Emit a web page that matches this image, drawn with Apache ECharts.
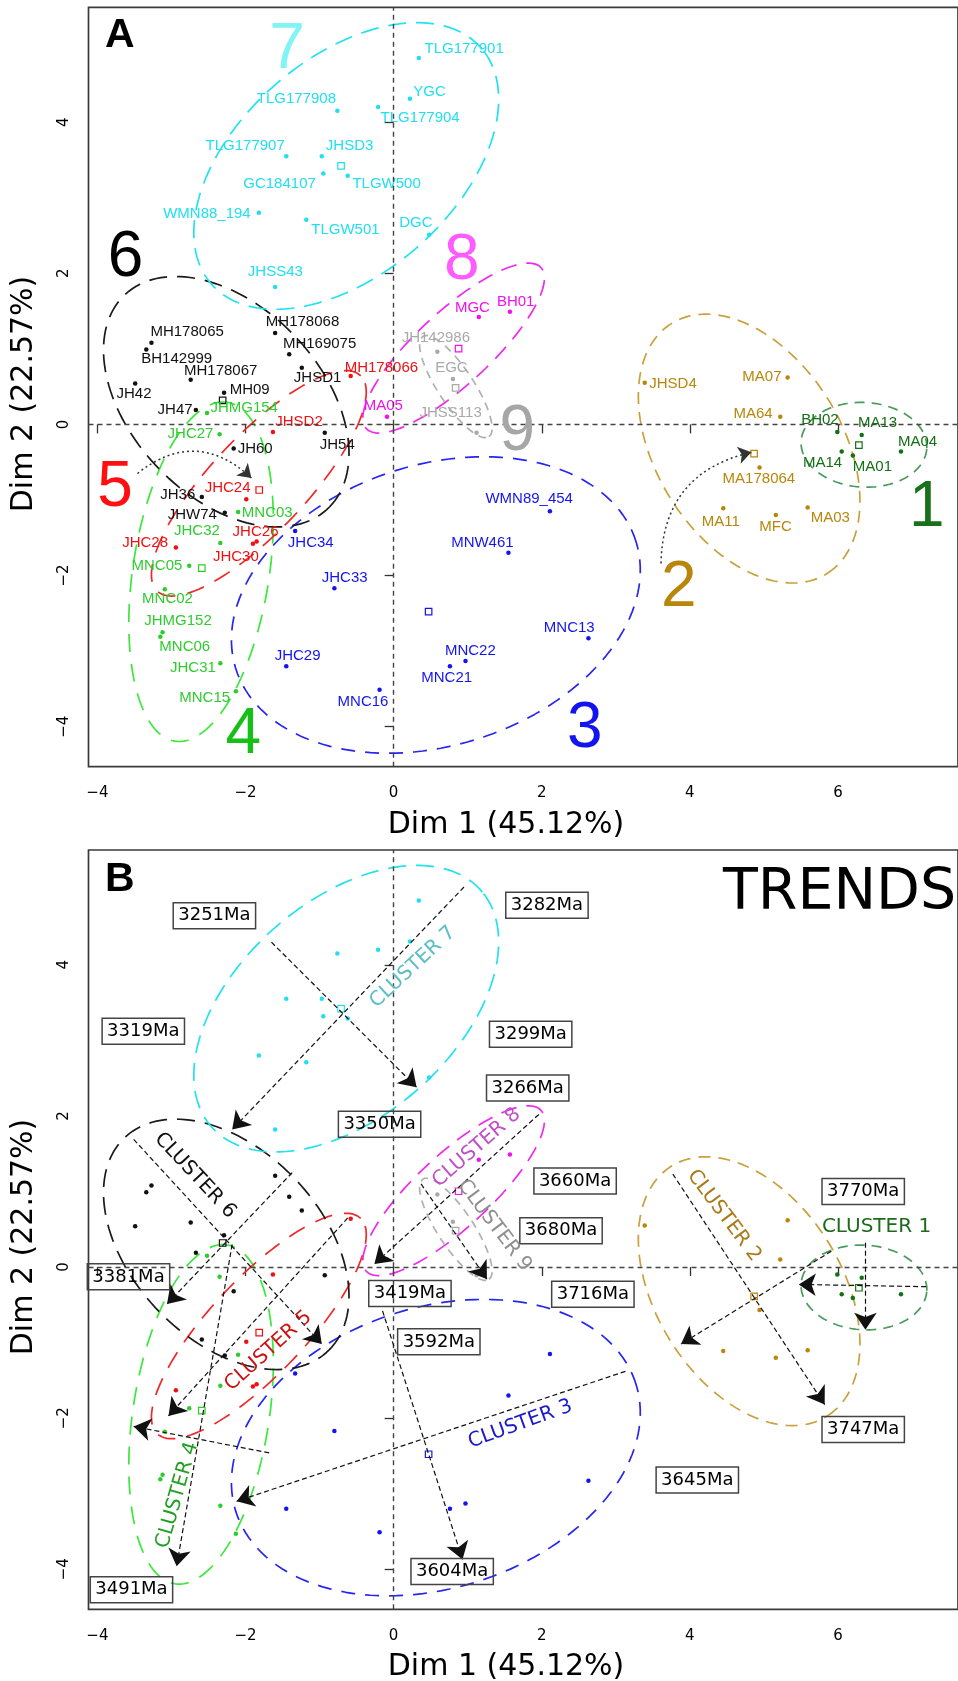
<!DOCTYPE html>
<html><head><meta charset="utf-8">
<script src="https://cdn.jsdelivr.net/npm/echarts@6/dist/echarts.min.js"></script>
<style>html,body{margin:0;padding:0;background:#fff}#chart{width:958px;height:1681px}</style>
</head><body><div id="chart"></div>
<script>
// ---------------- DATA ----------------
const xTicks = [-4, -2, 0, 2, 4, 6];
const yTicks = [-4, -2, 0, 2, 4];
const xTitle = 'Dim 1 (45.12%)';
const yTitle = 'Dim 2 (22.57%)';

const c1Names = ['BH02','MA13','MA14','MA01','MA04'];
const c1X = [5.99, 6.32, 6.05, 6.20, 6.85];
const c1Y = [-0.10, -0.14, -0.36, -0.41, -0.36];

const c2Names = ['JHSD4','MA07','MA64','MA178064','MA11','MFC','MA03'];
const c2X = [3.39, 5.32, 5.22, 4.94, 4.45, 5.16, 5.59];
const c2Y = [0.55, 0.62, 0.10, -0.57, -1.11, -1.20, -1.10];

const c3Names = ['JHC34','JHC33','JHC29','MNC16','MNW461','MNC22','MNC21','WMN89_454','MNC13'];
const c3X = [-1.33, -0.80, -1.45, -0.19, 1.55, 0.97, 0.76, 2.11, 2.63];
const c3Y = [-1.41, -2.17, -3.20, -3.51, -1.70, -3.13, -3.20, -1.15, -2.83];

const c4Names = ['JHMG154','JHC27','MNC03','JHC32','MNC05','MNC02','JHMG152','MNC06','JHC31','MNC15'];
const c4X = [-2.52, -2.35, -2.10, -2.34, -2.76, -3.09, -3.12, -3.15, -2.34, -2.13];
const c4Y = [0.15, -0.13, -1.16, -1.57, -1.87, -2.18, -2.75, -2.81, -3.16, -3.53];

const c5Names = ['MH178066','JHSD2','JHC24','JHC26','JHC30','JHC28'];
const c5X = [-0.58, -1.63, -1.99, -1.85, -1.90, -2.94];
const c5Y = [0.64, -0.10, -0.99, -1.55, -1.58, -1.63];

const c6Names = ['MH178068','MH178065','BH142999','MH169075','MH178067','JH42','MH09','JHSD1','JH47','JH60','JH54','JH36','JHW74'];
const c6X = [-1.60, -3.27, -3.34, -1.41, -2.74, -3.49, -2.29, -1.24, -2.67, -2.16, -0.93, -2.59, -2.28];
const c6Y = [1.21, 1.08, 0.99, 0.93, 0.59, 0.54, 0.42, 0.75, 0.19, -0.32, -0.11, -0.96, -1.17];

const c7Names = ['TLG177901','YGC','TLG177904','TLG177908','TLG177907','JHSD3','GC184107','TLGW500','WMN88_194','TLGW501','DGC','JHSS43'];
const c7X = [0.34, 0.22, -0.21, -0.76, -1.45, -0.97, -0.95, -0.62, -1.82, -1.18, 0.48, -1.60];
const c7Y = [4.85, 4.31, 4.20, 4.15, 3.55, 3.55, 3.32, 3.29, 2.80, 2.71, 2.51, 1.82];

const c8Names = ['MGC','BH01','MA05'];
const c8X = [1.15, 1.57, -0.09];
const c8Y = [1.42, 1.49, 0.10];

const c9Names = ['JH142986','EGC','JHSS113'];
const c9X = [0.59, 0.80, 1.12];
const c9Y = [0.96, 0.60, -0.11];

// concentration ellipses (cluster 1..9): centre, semi-axes, angle (deg)
const ellipseCX = [6.35, 4.80, 0.57, -2.60, -1.82, -2.26, -0.64, 0.81, 0.84];
const ellipseCY = [-0.27, -0.32, -2.39, -1.95, -0.78, 0.30, 3.42, 1.01, 0.50];
const ellipseA = [0.85, 1.96, 2.83, 2.27, 1.98, 1.97, 2.40, 1.59, 0.80];
const ellipseB = [0.56, 1.25, 1.86, 0.92, 0.64, 1.27, 1.44, 0.49, 0.24];
const ellipseAngle = [-3, -57, 17, 81, 46, -45, 40, 42, -56];

// big cluster numbers (panel A)
const bigNumText = ['1','2','3','4','5','6','7','8','9'];
const bigNumX = [7.20, 3.85, 2.58, -2.03, -3.76, -3.62, -1.44, 0.92, 1.67];
const bigNumY = [-1.11, -2.17, -4.03, -4.11, -0.84, 2.20, 4.95, 2.16, -0.10];

// dotted curved arrows (panel A)
const curveX1 = [-3.46, 3.61];
const curveY1 = [-0.65, -1.84];
const curveX2 = [-1.92, 4.83];
const curveY2 = [-0.71, -0.37];

// trend arrows (panel B)
const trendX1 = [0.95, -1.65, -3.51, -1.37, -0.62, -2.18, -1.68, 3.13, -0.15, 1.96, 0.37, 3.77, 5.91, 7.19, 6.37];
const trendY1 = [5.03, 4.30, 1.69, 1.25, 0.65, 0.30, -2.46, -1.38, -0.58, 2.02, 1.10, 1.23, 0.21, -0.26, 0.32];
const trendX2 = [-2.18, 0.31, -0.97, -3.06, -3.04, -2.93, -3.51, -2.12, 0.93, -0.26, 1.26, 5.82, 3.88, 5.47, 6.37];
const trendY2 = [1.82, 2.38, -1.02, -0.49, -1.97, -3.96, -2.11, -3.10, -3.87, 0.04, -0.16, -1.82, -1.02, -0.23, -0.83];

// age boxes (panel B)
const ageLabels = ['3251Ma','3319Ma','3350Ma','3282Ma','3299Ma','3266Ma','3660Ma','3680Ma','3770Ma','3381Ma','3419Ma','3592Ma','3604Ma','3491Ma','3716Ma','3747Ma','3645Ma'];
const ageX = [-2.42, -3.38, -0.19, 2.07, 1.85, 1.81, 2.45, 2.26, 6.34, -3.58, 0.22, 0.61, 0.79, -3.54, 2.69, 6.34, 4.10];
const ageY = [4.65, 3.12, 1.89, 4.79, 3.08, 2.37, 1.14, 0.48, 1.00, -0.13, -0.35, -0.99, -4.03, -4.27, -0.36, -2.15, -2.82];

// cluster tags (panel B)
const tagText = ['CLUSTER 1','CLUSTER 2','CLUSTER 3','CLUSTER 4','CLUSTER 5','CLUSTER 6','CLUSTER 7','CLUSTER 8','CLUSTER 9'];
const tagX = [6.52, 4.46, 1.71, -2.92, -1.69, -2.68, 0.26, 1.12, 1.36];
const tagY = [0.53, 0.68, -2.08, -3.02, -1.11, 1.21, 3.97, 1.58, 0.55];
const tagAngle = [0, -53, 20, 74, 42, -47, 43, 41, -53];

// ---------------- STYLES ----------------
const pointColor = ['#137013','#b8860b','#1414f0','#2fcc2f','#f01010','#111111','#1fdff0','#f010f0','#a9a9a9'];
const ellipseColor = ['#4a9a5c','#c9a03a','#2626f0','#3ae83a','#f02828','#1a1a1a','#22e2ee','#f028f0','#b0b0b0'];
const ellipseDash = [[10,7],[12,8],[14,10],[18,12],[18,12],[18,10],[18,10],[16,10],[8,6]];
const bigColor = ['#197219','#b8860b','#1414f0','#16c016','#ff0f0f','#000000','#80f4f6','#ff5cff','#a6a6a6'];
const tagColor = ['#1e6b1e','#a87a18','#1a1acc','#22a022','#cc1212','#111111','#5cbfc4','#c050c8','#8f8f8f'];
const labelOffsets = {
 TLG177901:[5.7,-9], YGC:[3.3,-7.3], TLG177904:[2.4,11], TLG177908:[-80.6,-12.4], TLG177907:[-80.7,-10.7], JHSD3:[4,-10.7], GC184107:[-80,10], TLGW500:[4.7,8], WMN88_194:[-95.7,1.3], TLGW501:[5,10], DGC:[-30,-12], JHSS43:[-27.3,-14.6],
 MH178068:[-9.3,-11], MH178065:[-1,-11], BH142999:[-5,9.7], MH169075:[-6.3,-10.7], MH178067:[-6.7,-9], JH42:[-18.7,10], MH09:[5.6,-2.7], JHSD1:[-8,10.6], JH47:[-38.3,0], JH60:[4,0], JH54:[-5,12.3], JH36:[-41.6,-1.7], JHW74:[-57,2.3],
 JHMG154:[3.4,-5], JHC27:[-52,-0.7], MNC03:[3.7,1], JHC32:[-46.3,-12], MNC05:[-57.7,0], MNC02:[-22.7,9.6], JHMG152:[-18.3,-11.6], MNC06:[-1,10], JHC31:[-50.3,4.6], MNC15:[-56.6,6.6],
 MH178066:[-6,-8.3], JHSD2:[2.3,-10], JHC24:[-41.6,-11.6], JHC26:[-24,-9.6], JHC30:[-40,12.7], JHC28:[-53.7,-5],
 JHC34:[-7.3,12.3], JHC33:[-12.6,-10.7], JHC29:[-11.6,-10.7], MNC16:[-42,12.4], MNW461:[-57.3,-9.7], MNC22:[-20.6,-10.3], MNC21:[-28.7,11.3], WMN89_454:[-64.5,-12], MNC13:[-44.6,-10],
 JHSD4:[4.5,0.6], MA07:[-45.3,-1], MA64:[-46.8,-3.4], MA178064:[-36.9,11.7], MA11:[-21.4,13.4], MFC:[-16.5,11.7], MA03:[3,10.6],
 BH02:[-36.1,-12.4], MA13:[-3.7,-11.7], MA14:[-38.7,11], MA01:[0,11], MA04:[-3,-10],
 MGC:[-23.9,-9], BH01:[-13,-10], MA05:[-23.3,-10.7],
 JH142986:[-35.7,-14.4], EGC:[-17.7,-11.6], JHSS113:[-57.1,-19.4]
};

const clusters = [
  [c1Names,c1X,c1Y],[c2Names,c2X,c2Y],[c3Names,c3X,c3Y],[c4Names,c4X,c4Y],[c5Names,c5X,c5Y],
  [c6Names,c6X,c6Y],[c7Names,c7X,c7Y],[c8Names,c8X,c8Y],[c9Names,c9X,c9Y]
];
const mean = a => a.reduce((s,v)=>s+v,0)/a.length;

function ellipsePoints(i){
  const th = ellipseAngle[i]*Math.PI/180, pts=[];
  for (let k=0;k<=144;k++){
    const t = 2*Math.PI*k/144;
    const ex = ellipseA[i]*Math.cos(t), ey = ellipseB[i]*Math.sin(t);
    pts.push([ellipseCX[i]+ex*Math.cos(th)-ey*Math.sin(th), ellipseCY[i]+ex*Math.sin(th)+ey*Math.cos(th)]);
  }
  return pts;
}

const XMIN=-4.12, XMAX=7.62, YMIN=-4.53, YMAX=5.52;
const minus = v => String(v).replace('-', '\u2212');
const CLEAR = {color:'rgba(0,0,0,0)', opacity:1};

const grids = [
  {left:88.5, top:7.3, width:887.5, height:759.4, show:true, borderColor:'#3a3a3a', borderWidth:1.7},
  {left:88.5, top:850, width:887.5, height:759.3, show:true, borderColor:'#3a3a3a', borderWidth:1.7}
];
const xAxes = [0,1].map(g=>({
  gridIndex:g, type:'value', min:XMIN, max:XMAX,
  axisLine:{show:false}, splitLine:{show:false},
  axisTick:{show:true, length:9, customValues:xTicks, lineStyle:{color:'#333', width:1.3}},
  axisLabel:{customValues:xTicks, fontSize:15, color:'#000', fontFamily:'DejaVu Sans', margin:19, formatter:minus}
}));
const yAxes = [0,1].map(g=>({
  gridIndex:g, type:'value', min:YMIN, max:YMAX,
  axisLine:{show:false}, splitLine:{show:false},
  axisTick:{show:true, length:9, customValues:yTicks, lineStyle:{color:'#333', width:1.3}},
  axisLabel:{customValues:yTicks, fontSize:15, color:'#000', fontFamily:'DejaVu Sans', margin:17, rotate:90, formatter:minus}
}));

const series = [];
for (let p=0;p<2;p++){
  // reference lines
  series.push({
    type:'scatter', xAxisIndex:p, yAxisIndex:p, data:[[0,0]], symbolSize:0, silent:true, z:1,
    itemStyle:CLEAR,
    markLine:{silent:true, symbol:'none', label:{show:false},
      lineStyle:{type:[5,4], color:'#444', width:1.4, opacity:1},
      data:[{xAxis:0},{yAxis:0}]}
  });
  // ellipses
  for (let i=0;i<9;i++){
    series.push({
      type:'line', xAxisIndex:p, yAxisIndex:p, data:ellipsePoints(i), showSymbol:false, symbol:'none',
      silent:true, z:2, lineStyle:{color:ellipseColor[i], width:1.7, type:ellipseDash[i], opacity:1}
    });
  }
  // points
  for (let i=0;i<9;i++){
    const [nm, xs, ys] = clusters[i];
    series.push({
      type:'scatter', xAxisIndex:p, yAxisIndex:p, symbolSize:4.5, z:4, silent:true,
      itemStyle:{color:pointColor[i], opacity:1},
      label:{show:p===0, position:'inside', align:'left', verticalAlign:'middle',
        formatter:'{b}', fontFamily:'Liberation Sans', fontSize:15, color:pointColor[i]},
      data: nm.map((n,k)=>({name:n, value:[xs[k], ys[k]], label:{offset:labelOffsets[n]}}))
    });
  }
  // centroids
  series.push({
    type:'scatter', xAxisIndex:p, yAxisIndex:p, symbol:'rect', symbolSize:6.5, z:4, silent:true,
    data: clusters.map((c,i)=>({value:[mean(c[1]), mean(c[2])],
      itemStyle:{color:'rgba(0,0,0,0)', opacity:1, borderColor:pointColor[i], borderWidth:1.2}}))
  });
}
// panel A big numbers
series.push({
  type:'scatter', xAxisIndex:0, yAxisIndex:0, symbolSize:1, z:5, silent:true,
  itemStyle:CLEAR,
  label:{show:true, position:'inside', formatter:'{b}', fontFamily:'Liberation Sans', fontSize:64},
  data: bigNumText.map((t,i)=>({name:t, value:[bigNumX[i], bigNumY[i]], label:{color:bigColor[i]}}))
});
// panel A curved arrows
const curveness = [0.43, 0.39];
for (let k=0;k<2;k++){
  series.push({
    type:'lines', coordinateSystem:'cartesian2d', xAxisIndex:0, yAxisIndex:0, z:6, silent:true,
    symbol:['none','arrow'], symbolSize:13,
    lineStyle:{color:'#333', width:1.5, type:[2,3], opacity:1, curveness:curveness[k]},
    data:[{coords:[[curveX1[k],curveY1[k]],[curveX2[k],curveY2[k]]]}]
  });
}
// panel B trend arrows
series.push({
  type:'lines', coordinateSystem:'cartesian2d', xAxisIndex:1, yAxisIndex:1, z:6, silent:true,
  symbol:['none','arrow'], symbolSize:17,
  lineStyle:{color:'#111', width:1.2, type:[5,3], opacity:1},
  data: trendX1.map((x,i)=>({coords:[[x,trendY1[i]],[trendX2[i],trendY2[i]]]}))
});
// panel B age boxes
series.push({
  type:'scatter', xAxisIndex:1, yAxisIndex:1, symbolSize:1, z:7, silent:true,
  itemStyle:CLEAR,
  label:{show:true, position:'inside', formatter:'{b}', fontFamily:'DejaVu Sans', fontSize:18, color:'#000',
    borderColor:'#444', borderWidth:1.5, padding:[5,5,3,5]},
  data: ageLabels.map((t,i)=>({name:t, value:[ageX[i], ageY[i]]}))
});
// panel B cluster tags
series.push({
  type:'scatter', xAxisIndex:1, yAxisIndex:1, symbolSize:1, z:7, silent:true,
  itemStyle:CLEAR,
  label:{show:true, position:'inside', formatter:'{b}', fontFamily:'DejaVu Sans', fontSize:20},
  data: tagText.map((t,i)=>({name:t, value:[tagX[i], tagY[i]], label:{color:tagColor[i], rotate:tagAngle[i]}}))
});

const graphic = [
  {type:'text', left:105, top:15, style:{text:'A', font:'bold 41px "Liberation Sans"', fill:'#000'}},
  {type:'text', left:105, top:859, style:{text:'B', font:'bold 41px "Liberation Sans"', fill:'#000'}},
  {type:'text', left:723, top:866, style:{text:'TRENDS', font:'57px "DejaVu Sans"', fill:'#000'}},
  {type:'text', x:506, y:825, style:{text:xTitle, font:'30px "DejaVu Sans"', fill:'#000', align:'center', verticalAlign:'middle'}},
  {type:'text', x:506, y:1667, style:{text:xTitle, font:'30px "DejaVu Sans"', fill:'#000', align:'center', verticalAlign:'middle'}},
  {type:'text', x:24, y:394, rotation:Math.PI/2, style:{text:yTitle, font:'30px "DejaVu Sans"', fill:'#000', align:'center', verticalAlign:'middle'}},
  {type:'text', x:24, y:1237, rotation:Math.PI/2, style:{text:yTitle, font:'30px "DejaVu Sans"', fill:'#000', align:'center', verticalAlign:'middle'}}
];

const chart = echarts.init(document.getElementById('chart'), null, {renderer:'canvas'});
chart.setOption({animation:false, backgroundColor:'#fff', grid:grids, xAxis:xAxes, yAxis:yAxes, series, graphic});
</script></body></html>
